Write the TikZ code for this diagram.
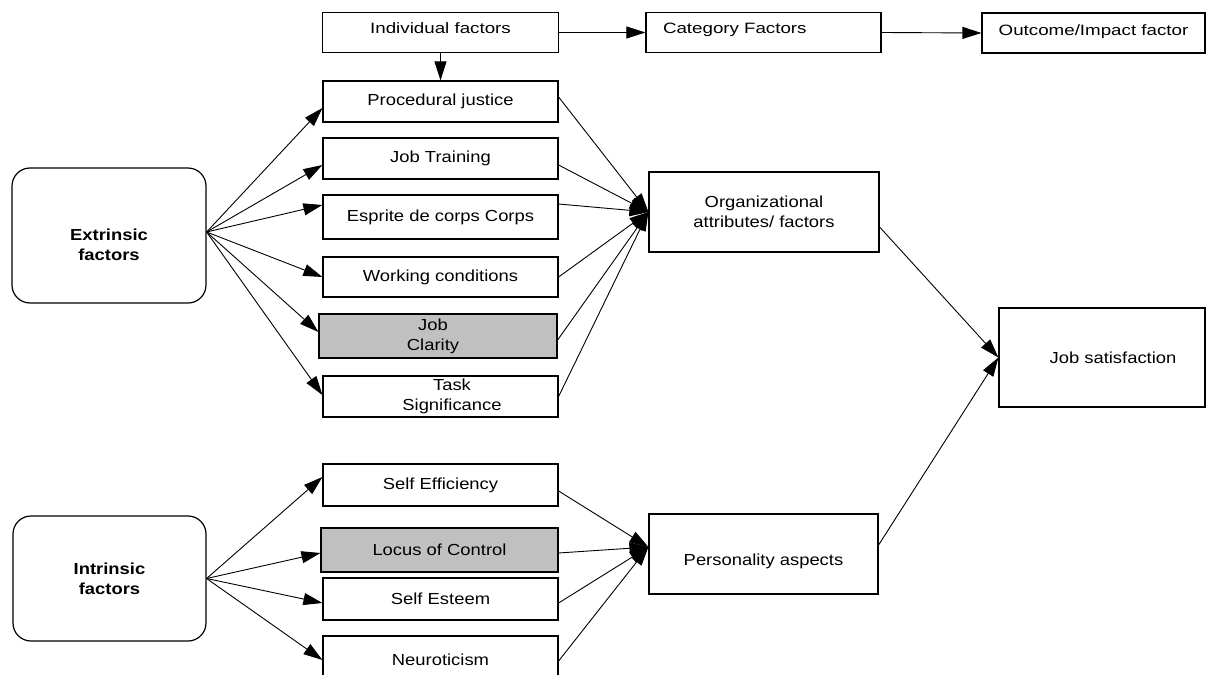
\documentclass[tikz,border=0pt]{standalone}
\usepackage{fontspec}
\setmainfont{Liberation Sans}[FakeStretch=1.15]
\newfontfamily\topfont{Liberation Sans}[FakeStretch=1.25]
\usetikzlibrary{arrows.meta}
\definecolor{claritygray}{RGB}{192,192,192}

\begin{document}
\begin{tikzpicture}[x=1pt,y=-1pt,
  box/.style={draw,line width=1.2pt,minimum width=235pt,align=center,inner sep=2pt,
    font=\fontsize{16}{20}\selectfont},
  topbox/.style={box,font=\topfont\fontsize{15}{18}\selectfont,text depth=9pt},
  greybox/.style={box,fill=claritygray},
  sidebox/.style={draw,line width=1.2pt,rounded corners=18pt,align=center,
    font=\bfseries\fontsize{16}{20}\selectfont},
  arr/.style={line width=0.9pt,-{Triangle[length=19pt,width=12pt]}}]
\useasboundingbox (0,0) rectangle (1206,674);
% top row
  \node (ind) at (440.5,32.5) [topbox,minimum width=236pt,minimum height=40pt] {Individual factors};
  \node (cat) at (763.5,32.5) [topbox,minimum height=40pt,text width=201pt,align=left,inner xsep=17pt] {Category Factors};
  \node (out) at (1093.5,33) [topbox,minimum width=223pt,minimum height=40pt,text depth=5pt] {Outcome/Impact factor};
% extrinsic side
  \node (ext) at (109,235.5) [sidebox,minimum width=194pt,minimum height=135pt] {\rule{0pt}{30pt}Extrinsic\\factors};
  \node (pj) at (440.5,101.5) [box,minimum height=41pt] {Procedural justice};
  \node (jt) at (440.5,158.5) [box,minimum height=41pt] {Job Training};
  \node (edc) at (440.5,217) [box,minimum height=44pt] {Esprite de corps Corps};
  \node (wc) at (440.5,277) [box,minimum height=40pt] {Working conditions};
  \node (jc) at (438,336) [greybox,minimum width=238pt,minimum height=44pt] {Job\hspace*{10pt}\\Clarity\hspace*{10pt}};
  \node (ts) at (440.5,396.5) [box,minimum height=41pt] {\hspace*{23pt}Task\\\hspace*{23pt}Significance};
  \node (org) at (764,212) [box,minimum width=230pt,minimum height=80pt] {Organizational\\attributes/ factors};
% intrinsic side
  \node (int) at (109.5,578.5) [sidebox,minimum width=193pt,minimum height=125pt] {Intrinsic\\factors};
  \node (se) at (440.5,485) [box,minimum height=42pt] {Self Efficiency};
  \node (loc) at (439.5,550) [greybox,minimum width=237pt,minimum height=44pt] {Locus of Control};
  \node (sest) at (440.5,599) [box,minimum height=42pt] {Self Esteem};
  \node (neu) at (440.5,660) [box,minimum height=48pt] {Neuroticism};
  \node (pers) at (763.5,554) [box,minimum width=229pt,minimum height=80pt,text height=26pt] {Personality aspects};
  \node (js) at (1102,357.5) [box,minimum width=206pt,minimum height=99pt] {\hspace*{22pt}Job satisfaction};

  \draw [arr] (ind.east) to (cat.west);
  \draw [arr] (cat.east) to (out.west);
  \draw [arr] (ind.south) to (pj.north);

  \draw [arr] ([yshift=3.5pt]ext.east) to ([yshift=-6.5pt]pj.west);
  \draw [arr] ([yshift=3.5pt]ext.east) to ([yshift=-6.5pt]jt.west);
  \draw [arr] ([yshift=3.5pt]ext.east) to ([yshift=12pt]edc.west);
  \draw [arr] ([yshift=3.5pt]ext.east) to (wc.west);
  \draw [arr] ([yshift=3.5pt]ext.east) to ([yshift=4pt]jc.west);
  \draw [arr] ([yshift=3.5pt]ext.east) to ([yshift=1.5pt]ts.west);

  \draw [arr] ([yshift=4.5pt]pj.east) to (org.west);
  \draw [arr] ([yshift=-6.5pt]jt.east) to (org.west);
  \draw [arr] ([yshift=13pt]edc.east) to (org.west);
  \draw [arr] (wc.east) to (org.west);
  \draw [arr] ([yshift=-4pt]jc.east) to (org.west);
  \draw [arr] (ts.east) to (org.west);

  \draw [arr] (int.east) to ([yshift=8pt]se.west);
  \draw [arr] (int.east) to ([yshift=-3pt]loc.west);
  \draw [arr] (int.east) to ([yshift=-4pt]sest.west);
  \draw [arr] (int.east) to (neu.west);

  \draw [arr] ([yshift=-6pt]se.east) to ([yshift=7pt]pers.west);
  \draw [arr] ([yshift=-3pt]loc.east) to ([yshift=7pt]pers.west);
  \draw [arr] ([yshift=-4pt]sest.east) to ([yshift=7pt]pers.west);
  \draw [arr] ([yshift=-1pt]neu.east) to ([yshift=7pt]pers.west);

  \draw [arr] ([yshift=-15pt]org.east) to (js.west);
  \draw [arr] ([yshift=9pt]pers.east) to (js.west);
\end{tikzpicture}
\end{document}
